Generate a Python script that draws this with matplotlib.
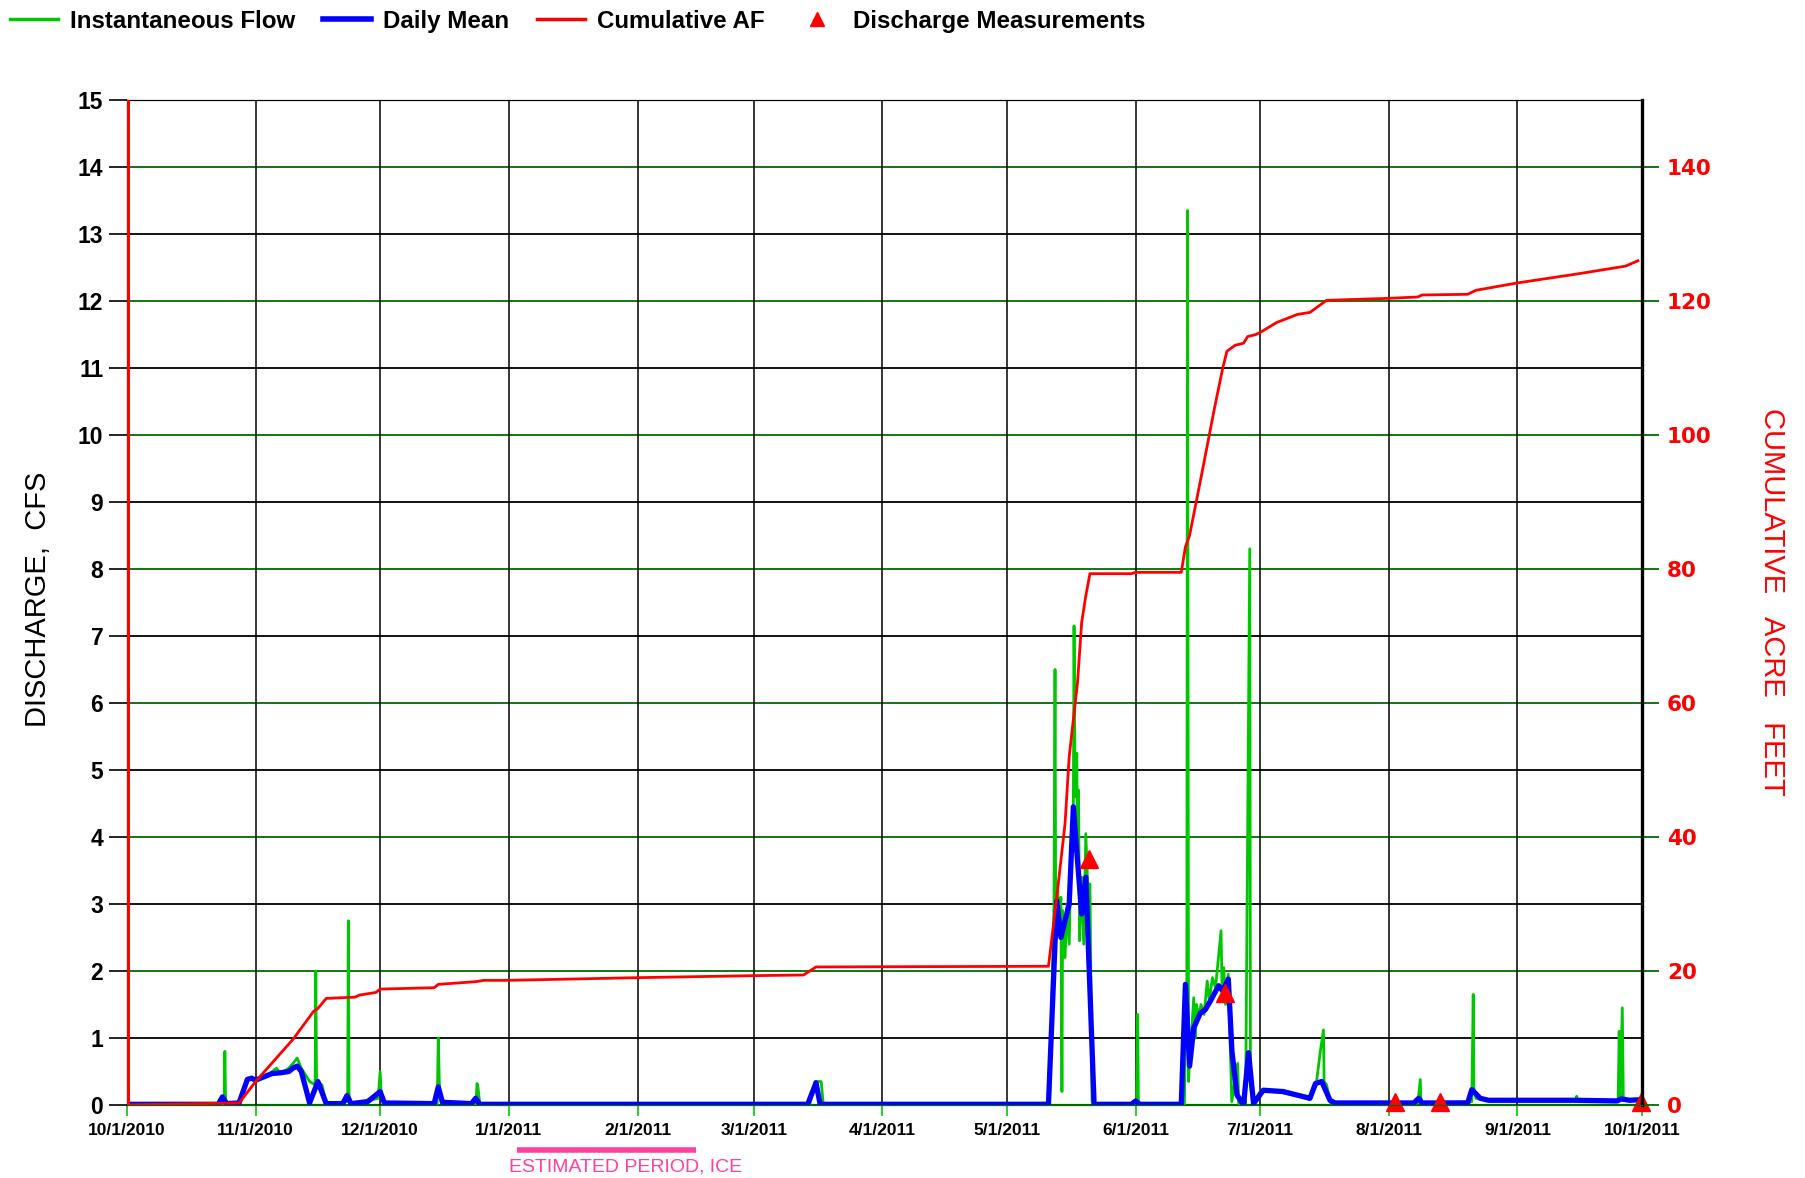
import matplotlib
matplotlib.use('Agg')
import matplotlib.pyplot as plt
from matplotlib.lines import Line2D
import pandas as pd

# daily mean discharge, cfs
mean_dates = ['2010-10-01', '2010-10-23', '2010-10-24', '2010-10-25', '2010-10-28', '2010-10-30',
              '2010-10-31', '2010-11-01', '2010-11-03', '2010-11-05', '2010-11-07', '2010-11-09',
              '2010-11-10', '2010-11-11', '2010-11-12', '2010-11-14', '2010-11-16', '2010-11-18',
              '2010-11-22', '2010-11-23', '2010-11-24', '2010-11-28', '2010-11-30', '2010-12-01',
              '2010-12-02', '2010-12-14', '2010-12-15', '2010-12-16', '2010-12-23', '2010-12-24',
              '2010-12-25', '2011-03-14', '2011-03-16', '2011-03-17', '2011-05-11', '2011-05-13',
              '2011-05-14', '2011-05-16', '2011-05-17', '2011-05-19', '2011-05-20', '2011-05-22',
              '2011-05-31', '2011-06-01', '2011-06-02', '2011-06-12', '2011-06-13', '2011-06-14',
              '2011-06-15', '2011-06-16 14:00', '2011-06-17 18:00', '2011-06-19', '2011-06-21',
              '2011-06-22', '2011-06-23 08:00', '2011-06-24 05:00', '2011-06-25 10:00', '2011-06-27',
              '2011-06-28 05:00', '2011-06-29 10:00', '2011-07-01 18:00', '2011-07-06 14:00',
              '2011-07-09 18:00', '2011-07-13', '2011-07-14 08:00', '2011-07-15 20:00',
              '2011-07-17 20:00', '2011-07-19', '2011-08-07', '2011-08-08 05:00', '2011-08-09',
              '2011-08-20', '2011-08-21', '2011-08-23', '2011-08-25', '2011-09-15', '2011-09-25',
              '2011-09-26', '2011-09-28', '2011-10-01']
mean_cfs = [0.01, 0.01, 0.12, 0.02, 0.03, 0.38,
            0.40, 0.37, 0.42, 0.47, 0.48, 0.50,
            0.55, 0.58, 0.50, 0.03, 0.35, 0.02,
            0.02, 0.14, 0.02, 0.05, 0.15, 0.20,
            0.03, 0.02, 0.27, 0.04, 0.02, 0.10,
            0.01, 0.01, 0.33, 0.01, 0.01, 3.05,
            2.50, 3.00, 4.45, 2.85, 3.40, 0.01,
            0.01, 0.06, 0.01, 0.01, 1.80, 0.58,
            1.15, 1.37, 1.42, 1.55, 1.78,
            1.70, 1.88, 0.80, 0.15, 0.00,
            0.78, 0.02, 0.22, 0.20,
            0.15, 0.10, 0.32, 0.35,
            0.07, 0.03, 0.03, 0.10, 0.03,
            0.03, 0.23, 0.10, 0.07, 0.07, 0.06,
            0.09, 0.07, 0.08]

# instantaneous flow, cfs
inst_times = ['2010-10-01', '2010-10-24 10:00', '2010-10-24 14:00', '2010-10-24 18:00', '2010-10-25',
              '2010-10-28', '2010-10-30', '2010-11-01', '2010-11-04', '2010-11-06', '2010-11-07',
              '2010-11-09', '2010-11-10', '2010-11-11', '2010-11-12', '2010-11-13', '2010-11-14',
              '2010-11-15 08:00', '2010-11-15 12:00', '2010-11-15 16:00', '2010-11-17',
              '2010-11-18', '2010-11-23 04:00', '2010-11-23 08:00', '2010-11-23 12:00',
              '2010-11-24', '2010-11-28', '2010-11-30 12:00', '2010-12-01', '2010-12-01 06:00',
              '2010-12-02', '2010-12-14 18:00', '2010-12-15', '2010-12-15 08:00', '2010-12-16',
              '2010-12-17', '2010-12-24 02:00', '2010-12-24 08:00', '2010-12-24 14:00',
              '2010-12-25', '2011-03-14 12:00', '2011-03-15 18:00', '2011-03-17 06:00',
              '2011-03-17 18:00', '2011-05-11 06:00', '2011-05-12 08:00', '2011-05-12 14:00',
              '2011-05-12 18:00', '2011-05-13 06:00', '2011-05-13 12:00', '2011-05-14',
              '2011-05-14 06:00', '2011-05-14 10:00', '2011-05-15', '2011-05-15 12:00',
              '2011-05-16', '2011-05-16 12:00', '2011-05-17', '2011-05-17 04:00',
              '2011-05-17 10:00', '2011-05-17 20:00', '2011-05-18', '2011-05-18 06:00',
              '2011-05-18 12:00', '2011-05-19', '2011-05-19 12:00', '2011-05-20',
              '2011-05-20 12:00', '2011-05-21', '2011-05-21 12:00', '2011-05-22',
              '2011-06-01 06:00', '2011-06-01 12:00', '2011-06-01 16:00', '2011-06-12 18:00',
              '2011-06-13 02:00', '2011-06-13 08:00', '2011-06-13 12:00', '2011-06-13 18:00',
              '2011-06-14', '2011-06-14 12:00', '2011-06-15', '2011-06-15 08:00',
              '2011-06-15 16:00', '2011-06-16 06:00', '2011-06-16 18:00', '2011-06-17 12:00',
              '2011-06-18 06:00', '2011-06-18 18:00', '2011-06-19 12:00', '2011-06-20 06:00',
              '2011-06-21 14:00', '2011-06-21 20:00', '2011-06-22 06:00', '2011-06-22 16:00',
              '2011-06-23 08:00', '2011-06-23 16:00', '2011-06-24 04:00', '2011-06-25 14:00',
              '2011-06-25 20:00', '2011-06-27 12:00', '2011-06-28 12:00', '2011-06-28 16:00',
              '2011-06-29 06:00', '2011-07-01', '2011-07-05', '2011-07-08', '2011-07-11',
              '2011-07-13', '2011-07-14 12:00', '2011-07-15 12:00', '2011-07-16 06:00',
              '2011-07-16 10:00', '2011-07-17', '2011-07-18', '2011-08-08', '2011-08-08 14:00',
              '2011-08-08 18:00', '2011-08-21', '2011-08-21 08:00', '2011-08-21 12:00',
              '2011-08-22', '2011-08-25', '2011-09-15', '2011-09-15 06:00', '2011-09-15 12:00',
              '2011-09-25 06:00', '2011-09-25 12:00', '2011-09-25 18:00', '2011-09-26 06:00',
              '2011-09-26 12:00', '2011-10-01']
inst_cfs = [0.01, 0.01, 0.80, 0.10, 0.02,
            0.03, 0.40, 0.38, 0.45, 0.55, 0.47,
            0.55, 0.62, 0.70, 0.55, 0.45, 0.35,
            0.30, 2.00, 0.35, 0.30,
            0.02, 0.05, 2.75, 0.15,
            0.02, 0.06, 0.10, 0.50, 0.15,
            0.03, 0.02, 1.00, 0.12, 0.08,
            0.02, 0.02, 0.32, 0.25,
            0.02, 0.01, 0.35, 0.35,
            0.01, 0.01, 3.00, 6.50,
            2.80, 3.20, 2.60, 3.10,
            0.20, 2.90, 2.20, 3.00,
            2.40, 3.90, 4.50, 7.15,
            4.60, 5.25, 3.50, 4.70,
            2.45, 3.40, 2.40, 4.05,
            3.20, 3.30, 0.05, 0.01,
            0.01, 1.35, 0.02, 0.01,
            1.60, 1.50, 13.35, 0.35,
            0.70, 1.10, 1.60, 1.00,
            1.50, 1.30, 1.50, 1.35,
            1.85, 1.55, 1.90, 1.75,
            2.60, 1.70, 2.05, 1.50,
            1.95, 1.20, 0.05, 0.62,
            0.02, 0.02, 8.30, 0.30,
            0.02, 0.20, 0.20, 0.16, 0.12,
            0.08, 0.30, 0.80, 1.12,
            0.35, 0.30, 0.03, 0.03, 0.38,
            0.03, 0.05, 1.65, 0.25,
            0.10, 0.07, 0.07, 0.13, 0.07,
            0.06, 1.10, 0.08, 1.45,
            0.08, 0.07]

# cumulative volume, acre-feet
cum_dates = ['2010-10-01', '2010-10-28', '2010-11-01', '2010-11-10', '2010-11-15', '2010-11-16',
             '2010-11-18', '2010-11-25', '2010-11-26', '2010-11-30', '2010-12-01', '2010-12-14',
             '2010-12-15', '2010-12-24', '2010-12-26', '2011-01-01', '2011-02-01', '2011-03-01',
             '2011-03-13', '2011-03-16', '2011-05-11', '2011-05-13', '2011-05-15', '2011-05-16',
             '2011-05-18', '2011-05-19', '2011-05-20', '2011-05-21', '2011-05-31', '2011-06-01',
             '2011-06-12', '2011-06-13', '2011-06-14', '2011-06-17', '2011-06-20', '2011-06-22',
             '2011-06-23', '2011-06-25', '2011-06-27', '2011-06-28', '2011-06-30', '2011-07-01',
             '2011-07-05', '2011-07-10', '2011-07-13', '2011-07-15', '2011-07-17', '2011-08-01',
             '2011-08-08', '2011-08-09', '2011-08-20', '2011-08-22', '2011-09-01', '2011-09-15',
             '2011-09-27', '2011-09-30']
cum_af = [0.0, 0.3, 3.5, 9.8, 14.0, 14.4,
          15.9, 16.1, 16.4, 16.8, 17.3, 17.5,
          18.0, 18.4, 18.6, 18.6, 19.0, 19.3,
          19.4, 20.6, 20.7, 31.0, 42.0, 52.0,
          63.0, 72.0, 76.0, 79.3, 79.3, 79.5,
          79.5, 83.3, 85.0, 94.4, 104.0, 110.0,
          112.5, 113.4, 113.7, 114.7, 115.0, 115.3,
          116.8, 118.0, 118.3, 119.2, 120.1, 120.4,
          120.6, 120.9, 121.0, 121.6, 122.7, 124.0,
          125.2, 126.0]

# discharge measurements
meas_dates = ['2011-05-20 16:00', '2011-06-22 14:00', '2011-08-02 12:00', '2011-08-13 10:00', '2011-09-30 20:00']
meas_cfs = [3.67, 1.67, 0.05, 0.05, 0.05]

month_labels = ['10/1/2010', '11/1/2010', '12/1/2010', '1/1/2011', '2/1/2011', '3/1/2011', '4/1/2011',
                '5/1/2011', '6/1/2011', '7/1/2011', '8/1/2011', '9/1/2011', '10/1/2011']
ice_start = '2011-01-03'
ice_end = '2011-02-15'


def to_dt(seq):
    return pd.to_datetime(seq, format='ISO8601')


month_ticks = pd.to_datetime(month_labels, format='%m/%d/%Y')

fig = plt.figure(figsize=(18.06, 11.78), dpi=100)
ax = fig.add_axes([0.0703, 0.0620, 0.8389, 0.8531])
ax2 = ax.twinx()

GRIDGREEN = '#006a00'
for v in range(1, 16):
    ax.axhline(v, color=GRIDGREEN if v % 2 == 0 else 'black', lw=1.3, zorder=0)
ax.axhline(0, color=GRIDGREEN, lw=1.6, zorder=0)
for t in month_ticks:
    ax.axvline(t, color='black', lw=1.1, zorder=0)

ax.plot(to_dt(inst_times), inst_cfs, color='#00c800', lw=2.0, zorder=2)
ax.plot(to_dt(mean_dates), mean_cfs, color='#0000ff', lw=3.8, zorder=3)
ax.plot(to_dt(meas_dates), meas_cfs, linestyle='none', marker='^', color='#ff0000',
        markersize=13, zorder=4, clip_on=False)

ax2.plot(to_dt(cum_dates), cum_af, color='#ff0000', lw=2.0, zorder=3)
ax2.axvline(month_ticks[0] + pd.Timedelta(hours=8), color='#ff0000', lw=2.2, zorder=5)

ax.set_xlim(month_ticks[0], month_ticks[-1])
ax.set_ylim(0, 15)
ax2.set_ylim(0, 150)

ax.set_xticks(month_ticks)
ax.set_xticklabels(month_labels, fontsize=12.5, fontweight='bold', family='Liberation Sans')
ax.tick_params(axis='x', direction='out', length=8, width=1.2, color='#00c800', pad=5)
ax.set_yticks(range(0, 16))
ax.set_yticklabels([str(v) for v in range(0, 16)], fontsize=16.5, fontweight='bold',
                   family='Liberation Sans')
ax.tick_params(axis='y', direction='out', length=13, width=1.2, color='black', pad=4)

ax2.set_yticks(range(0, 150, 20))
ax2.set_yticklabels([str(v) for v in range(0, 150, 20)], fontsize=15.5, fontweight='bold',
                    family='DejaVu Sans', color='#ff0000')
ax2.tick_params(axis='y', direction='out', length=12, width=1.3, color=GRIDGREEN, pad=6)

for a in (ax, ax2):
    a.spines['bottom'].set_color(GRIDGREEN)
    a.spines['left'].set_color('black')
    a.spines['top'].set_color('black')
    a.spines['right'].set_color('black')
ax2.spines['right'].set_linewidth(2.4)

fig.text(0.021, 0.491, 'DISCHARGE,  CFS', rotation=90, ha='center', va='center',
         fontsize=21, family='Liberation Sans')
fig.text(0.981, 0.489, 'CUMULATIVE   ACRE   FEET', rotation=270, ha='center', va='center',
         fontsize=21, color='#ff0000', family='Liberation Sans')

# estimated ice period
xt = ax.get_xaxis_transform()
ax.plot(to_dt([ice_start, ice_end]), [-0.0448, -0.0448], transform=xt, color='#ff40a0',
        lw=4, clip_on=False, solid_capstyle='butt')
ax.text(pd.Timestamp('2011-01-01'), -0.0615, 'ESTIMATED PERIOD, ICE', transform=xt,
        ha='left', va='center', fontsize=14, color='#ff40a0', family='Liberation Sans')

handles = [Line2D([], [], color='#00c800', lw=2.5),
           Line2D([], [], color='#0000ff', lw=4),
           Line2D([], [], color='#ff0000', lw=2.5),
           Line2D([], [], color='#ff0000', marker='^', linestyle='none', markersize=10)]
names = ['Instantaneous Flow', 'Daily Mean', 'Cumulative AF', 'Discharge Measurements']
fig.legend(handles, names, loc='upper left', bbox_to_anchor=(0.0, 1.0), ncol=4, frameon=False,
           handlelength=2.0, handletextpad=0.5, columnspacing=1.14, borderaxespad=0.0,
           borderpad=0.4, prop={'family': 'Liberation Sans', 'weight': 'bold', 'size': 17.4})

fig.savefig('out.png', dpi=100)
